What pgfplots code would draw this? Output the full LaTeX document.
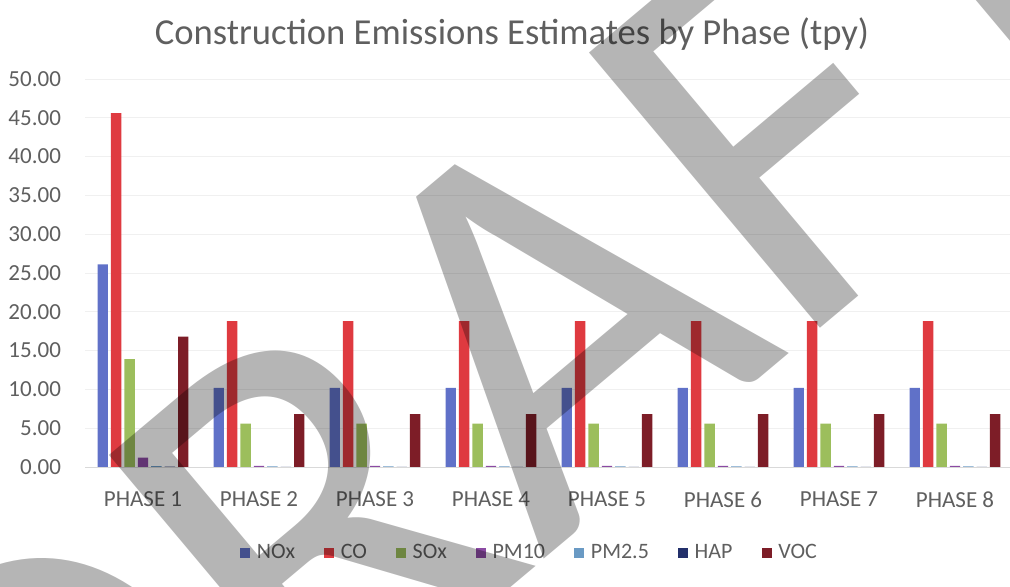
\documentclass[border=0pt]{standalone}
\usepackage{pgfplots}
\pgfplotsset{compat=1.18}
\usepackage{fontspec}
\setmainfont{Carlito}
\definecolor{cNOx}{HTML}{6071C8}
\definecolor{cCO}{HTML}{DF3A40}
\definecolor{cSOx}{HTML}{9CBE5C}
\definecolor{cPMten}{HTML}{8B4AA3}
\definecolor{cPMtwo}{HTML}{6A9AC4}
\definecolor{cHAP}{HTML}{23306B}
\definecolor{cVOC}{HTML}{7D1D27}
\definecolor{txt}{HTML}{5F5F5F}
\begin{document}
\begin{tikzpicture}
\begin{axis}[
  at={(42.5pt,60pt)}, anchor=south west,
  scale only axis, width=464pt, height=194pt,
  xmin=-0.5, xmax=7.5, ymin=0, ymax=50,
  ytick={0,5,...,50},
  xtick={0,...,7},
  xticklabels={PHASE 1,PHASE 2,PHASE 3,PHASE 4,PHASE 5,PHASE 6,PHASE 7,PHASE 8},
  /pgf/number format/assume math mode=true,
  yticklabel={\pgfmathprintnumber[fixed,fixed zerofill,precision=2]{\tick}},
  yticklabel style={font=\fontsize{11.5}{13}\selectfont, text=txt, xshift=-8.5pt},
  xticklabel style={font=\fontsize{11.5}{13}\selectfont, text=txt, yshift=-9pt},
  major tick length=0pt,
  axis lines*=left,
  y axis line style={draw=none},
  x axis line style={draw=black!15},
  ymajorgrids, grid style={draw=black!6},
  ybar=1.5pt, bar width=5.2pt,
  legend columns=7,
  legend style={at={(0.48,-0.222)}, anchor=center, draw=none, fill=none,
    font=\fontsize{11}{13}\selectfont, text=txt,
    /tikz/every odd column/.append style={column sep=1.2pt},
    /tikz/every even column/.append style={column sep=12.5pt}},
  legend image code/.code={\fill[#1] (0pt,-2.6pt) rectangle (5.2pt,2.6pt);},
]
\addplot[fill=cNOx, draw=none] coordinates {(0,26.1) (1,10.2) (2,10.2) (3,10.2) (4,10.2) (5,10.2) (6,10.2) (7,10.2)};
\addplot[fill=cCO, draw=none] coordinates {(0,45.6) (1,18.8) (2,18.8) (3,18.8) (4,18.8) (5,18.8) (6,18.8) (7,18.8)};
\addplot[fill=cSOx, draw=none] coordinates {(0,13.9) (1,5.6) (2,5.6) (3,5.6) (4,5.6) (5,5.6) (6,5.6) (7,5.6)};
\addplot[fill=cPMten, draw=none] coordinates {(0,1.2) (1,0.15) (2,0.15) (3,0.15) (4,0.15) (5,0.15) (6,0.15) (7,0.15)};
\addplot[fill=cPMtwo, draw=none] coordinates {(0,0.12) (1,0.08) (2,0.08) (3,0.08) (4,0.08) (5,0.08) (6,0.08) (7,0.08)};
\addplot[fill=cHAP, draw=none] coordinates {(0,0.05) (1,0.02) (2,0.02) (3,0.02) (4,0.02) (5,0.02) (6,0.02) (7,0.02)};
\addplot[fill=cVOC, draw=none] coordinates {(0,16.8) (1,6.8) (2,6.8) (3,6.8) (4,6.8) (5,6.8) (6,6.8) (7,6.8)};
\legend{NOx,CO,SOx,PM10,PM2.5,HAP,VOC}
\end{axis}
\node[anchor=base, font=\fontsize{18.3}{21}\selectfont, text=txt] at (256pt,271pt) {Construction Emissions Estimates by Phase (tpy)};
\node[overlay, rotate=40, text=black, text opacity=0.29, font=\fontsize{280}{300}\selectfont, inner sep=0pt] at (253pt,115pt) {DRAFT};
\pgfresetboundingbox
\useasboundingbox (0,0) rectangle (505pt,293.5pt);
\end{tikzpicture}
\end{document}
